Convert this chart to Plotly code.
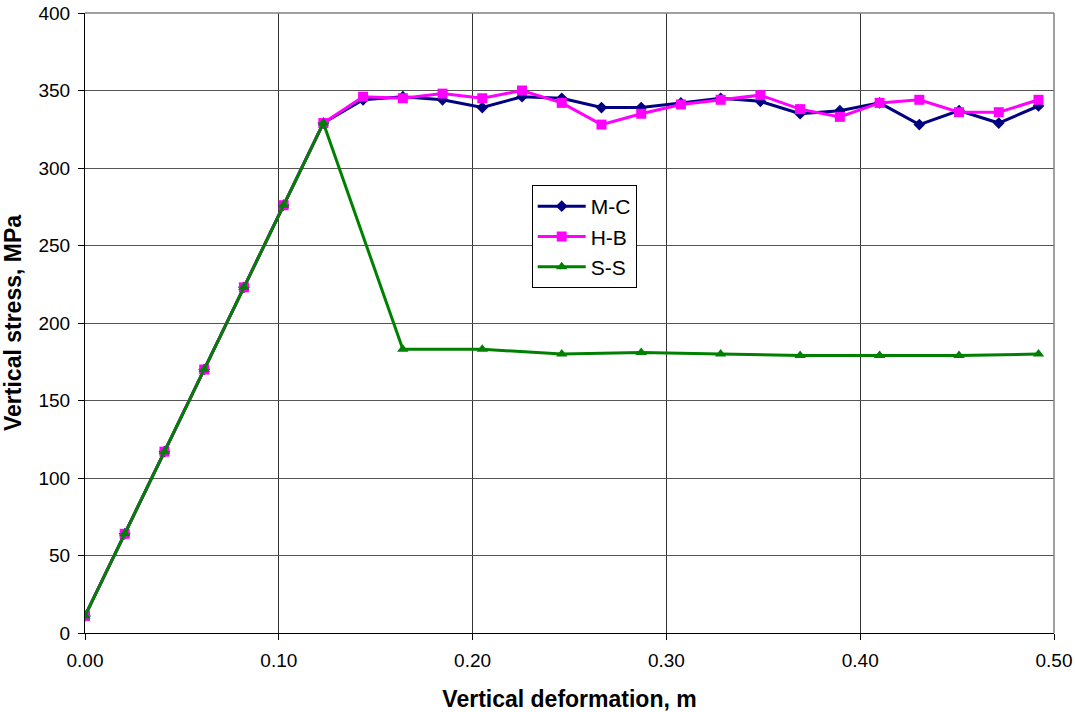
import plotly.graph_objects as go

# x positions (vertical deformation, m)
x_mc = [0.0, 0.0205, 0.041, 0.0615, 0.082, 0.1025, 0.123, 0.1435, 0.164, 0.1845,
        0.205, 0.2255, 0.246, 0.2665, 0.287, 0.3075, 0.328, 0.3485, 0.369, 0.3895,
        0.41, 0.4305, 0.451, 0.4715, 0.492]
y_mc = [11, 64, 117, 170, 223, 276, 329, 344, 346, 344,
        339, 346, 345, 339, 339, 342, 345, 343, 335, 337,
        342, 328, 337, 329, 340]
x_hb = x_mc
y_hb = [11, 64, 117, 170, 223, 276, 329, 346, 345, 348,
        345, 350, 342, 328, 335, 341, 344, 347, 338, 333,
        342, 344, 336, 336, 344]
x_ss = [0.0, 0.0205, 0.041, 0.0615, 0.082, 0.1025, 0.123, 0.164, 0.205, 0.246,
        0.287, 0.328, 0.369, 0.41, 0.451, 0.492]
y_ss = [11, 64, 117, 170, 223, 276, 329, 183, 183, 180,
        181, 180, 179, 179, 179, 180]

x_ticks = [0.0, 0.1, 0.2, 0.3, 0.4, 0.5]
x_ticklabels = ["0.00", "0.10", "0.20", "0.30", "0.40", "0.50"]
y_ticks = [0, 50, 100, 150, 200, 250, 300, 350, 400]

FONT = "Liberation Sans, Arial, sans-serif"

fig = go.Figure()
fig.add_trace(go.Scatter(x=x_mc, y=y_mc, name="M-C", mode="lines+markers",
                         line=dict(color="#000080", width=3),
                         marker=dict(symbol="diamond", size=9, color="#000080")))
fig.add_trace(go.Scatter(x=x_hb, y=y_hb, name="H-B", mode="lines+markers",
                         line=dict(color="#FF00FF", width=3),
                         marker=dict(symbol="square", size=10, color="#FF00FF")))
fig.add_trace(go.Scatter(x=x_ss, y=y_ss, name="S-S", mode="lines+markers",
                         line=dict(color="#008000", width=3),
                         marker=dict(symbol="triangle-up", size=10, color="#008000")))

fig.update_layout(
    width=1075, height=712,
    margin=dict(l=85, r=21, t=13, b=79),
    paper_bgcolor="white", plot_bgcolor="white",
    font=dict(family=FONT, size=19, color="black"),
    legend=dict(x=0.461, y=0.7226, xanchor="left", yanchor="top",
                bgcolor="white", bordercolor="black", borderwidth=1,
                font=dict(family=FONT, size=21, color="black"),
                itemwidth=48, tracegroupgap=0),
    showlegend=True,
)
fig.update_xaxes(range=[0, 0.5], tickvals=x_ticks, ticktext=x_ticklabels,
                 showgrid=True, gridcolor="#333333", gridwidth=1,
                 showline=True, linecolor="black", linewidth=1,
                 ticks="outside", ticklen=6, tickcolor="black",
                 ticklabelstandoff=4,
                 zeroline=False, automargin=False,
                 title=dict(text="<b>Vertical deformation, m</b>", standoff=22,
                            font=dict(family=FONT, size=23)))
fig.update_yaxes(range=[0, 400], tickvals=y_ticks,
                 showgrid=True, gridcolor="#555555", gridwidth=1,
                 showline=True, linecolor="black", linewidth=1,
                 ticks="outside", ticklen=6, tickcolor="black",
                 ticklabelstandoff=4,
                 zeroline=False, automargin=False,
                 title=dict(text="<b>Vertical stress, MPa</b>", standoff=12,
                            font=dict(family=FONT, size=23)))
# plot area border (top/right in gray)
fig.add_shape(type="line", xref="paper", yref="paper", x0=0, x1=1, y0=1, y1=1,
              line=dict(color="#808080", width=1.5))
fig.add_shape(type="line", xref="paper", yref="paper", x0=1, x1=1, y0=0, y1=1,
              line=dict(color="#808080", width=1.5))

fig.write_html("out.html")
